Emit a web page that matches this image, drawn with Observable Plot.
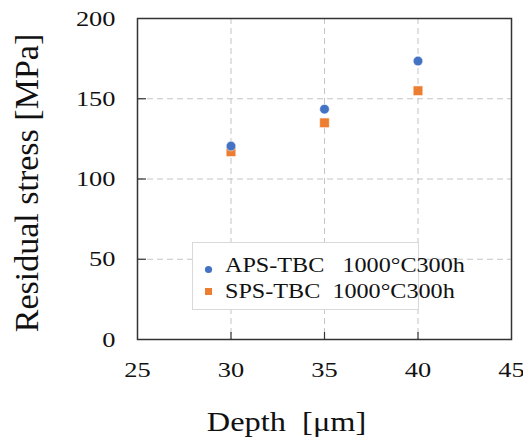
<!DOCTYPE html>
<html><head><meta charset="utf-8">
<script src="https://cdn.jsdelivr.net/npm/d3@7"></script>
<script src="https://cdn.jsdelivr.net/npm/@observablehq/plot@0.6"></script>
<style>
body{margin:0;background:#fff;}
#wrap{position:relative;width:523px;height:439px;font-family:"Liberation Serif","Times New Roman",serif;}
#legend{position:absolute;left:192px;top:242px;width:227px;height:68px;border:1px solid #d9d9d9;background:#fff;box-sizing:border-box;color:#111;}
#legend .lbl{position:absolute;left:32px;white-space:pre;font-size:21px;line-height:21px;transform:scaleX(1.15);transform-origin:left center;}
</style>
</head><body>
<div id="wrap"></div>
<script>
const depth = [30, 35, 40];
const apsValues = [120.5, 143.5, 173.5];
const spsValues = [117, 135, 155];
const seriesNames = ["APS-TBC   1000°C300h", "SPS-TBC  1000°C300h"];
const seriesColors = ["#4472c4", "#ed7d31"];
const xTicks = [25, 30, 35, 40, 45];
const yTicks = [0, 50, 100, 150, 200];
const xTitle = "Depth  [μm]";
const yTitle = "Residual stress [MPa]";

const aps = depth.map((d, i) => ({depth: d, value: apsValues[i]}));
const sps = depth.map((d, i) => ({depth: d, value: spsValues[i]}));

const font = "Liberation Serif, Times New Roman, serif";
const chart = Plot.plot({
  width: 523, height: 439,
  marginLeft: 137, marginRight: 12, marginTop: 18, marginBottom: 100,
  style: {fontFamily: font, fontSize: "22px", color: "#111", background: "#fff"},
  x: {domain: [25, 45], ticks: xTicks},
  y: {domain: [0, 200], ticks: yTicks},
  marks: [
    Plot.gridX(xTicks.slice(1, -1), {stroke: "#c4c4c4", strokeOpacity: 1, strokeDasharray: "6,4", strokeWidth: 1}),
    Plot.gridY(yTicks.slice(1, -1), {stroke: "#c4c4c4", strokeOpacity: 1, strokeDasharray: "6,4", strokeWidth: 1}),
    Plot.axisX(xTicks.slice(1, -1), {tickSize: -7, text: null, label: null, stroke: "#333", strokeWidth: 1.2}),
    Plot.axisY(yTicks.slice(1, -1), {tickSize: -9, text: null, label: null, stroke: "#333", strokeWidth: 1.2}),
    Plot.axisX(xTicks, {tickSize: 0, tickPadding: 22, label: null, fontSize: 22, fontFamily: font, fill: "#111"}),
    Plot.axisY(yTicks, {tickSize: 0, tickPadding: 22, label: null, fontSize: 22, fontFamily: font, fill: "#111"}),
    Plot.frame({stroke: "#333", strokeWidth: 1.5}),
    Plot.dot(sps, {x: "depth", y: "value", symbol: "square", r: 5.4, fill: seriesColors[1], stroke: "#fff", strokeWidth: 0.5}),
    Plot.dot(aps, {x: "depth", y: "value", symbol: "circle", r: 4.8, fill: seriesColors[0], stroke: "#fff", strokeWidth: 0.5}),
    Plot.text([xTitle], {frameAnchor: "bottom", dx: -38, dy: 83, lineAnchor: "middle", textAnchor: "middle", fontSize: 27, fontFamily: font, fill: "#111"}),
    Plot.text([yTitle], {frameAnchor: "left", dx: -110, dy: 4, rotate: -90, lineAnchor: "middle", textAnchor: "middle", fontSize: 34, fontFamily: font, fill: "#111"})
  ]
});
const wrap = document.getElementById("wrap");
wrap.appendChild(chart);

// the reference glyphs are stretched horizontally about 1.2x
chart.querySelectorAll("text").forEach(t => {
  if (t.textContent === yTitle) return;
  const len = t.getComputedTextLength();
  if (len > 0) {
    t.setAttribute("textLength", (len * 1.2).toFixed(1));
    t.setAttribute("lengthAdjust", "spacingAndGlyphs");
  }
});

const legend = document.createElement("div");
legend.id = "legend";
const tops = [12, 38];
seriesNames.forEach((name, i) => {
  const sym = i === 0
    ? `<svg width="9" height="9" style="position:absolute;left:11px;top:${tops[i] + 10}px"><circle cx="4.5" cy="4.5" r="3.6" fill="${seriesColors[i]}"/></svg>`
    : `<svg width="9" height="9" style="position:absolute;left:11px;top:${tops[i] + 6}px"><rect x="1" y="1" width="7" height="7" fill="${seriesColors[i]}"/></svg>`;
  legend.insertAdjacentHTML("beforeend", sym + `<span class="lbl" style="top:${tops[i]}px">${name}</span>`);
});
wrap.appendChild(legend);
</script>
</body></html>
